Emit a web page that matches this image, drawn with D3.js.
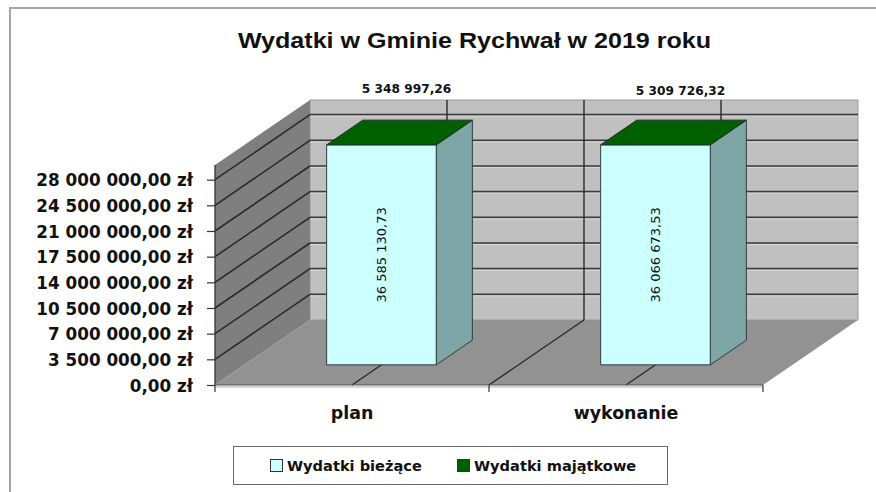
<!DOCTYPE html>
<html>
<head>
<meta charset="utf-8">
<script src="https://cdn.jsdelivr.net/npm/d3@7"></script>
<style>
  html, body { margin: 0; padding: 0; background: #ffffff; }
  svg { display: block; }
</style>
</head>
<body>
<svg id="chart" width="876" height="492"></svg>
<script>
// ---- data ----
const title = "Wydatki w Gminie Rychwał w 2019 roku";
const categories = ["plan", "wykonanie"];
const seriesNames = ["Wydatki bieżące", "Wydatki majątkowe"];
const biezace = [36585130.73, 36066673.53];
const majatkowe = [5348997.26, 5309726.32];
const yTicks = [0, 3500000, 7000000, 10500000, 14000000, 17500000, 21000000, 24500000, 28000000];
const yMax = 30000000;

// ---- style ----
const colFront = ["#ccffff", "#006000"];
const colSide = ["#7fa6a6", "#004400"];
const DX = 95, DY = -65;          // depth projection
const D0 = 0.31, D1 = 0.69;       // bar depth span

const loc = d3.formatLocale({decimal: ",", thousands: " ", grouping: [3], currency: ["", " zł"]});
const fmtAxis = loc.format("$,.2f");
const fmtVal = loc.format(",.2f");

const svg = d3.select("#chart");

// outer border
svg.append("rect").attr("x", 10).attr("y", 8).attr("width", 900).attr("height", 520)
  .attr("fill", "#fff").attr("stroke", "#a6a6a6").attr("stroke-width", 2);

// scales (front plane)
const x = d3.scaleBand().domain(categories).range([215, 763]).paddingInner(0.6).paddingOuter(0.3);
const y = d3.scaleLinear().domain([0, yMax]).range([385, 165]);
const x0 = x.range()[0], x1 = x.range()[1];
const yb = y(0), yt = y(yMax);

const pt = (px, py, d) => [px + DX * d, py + DY * d];
const poly = pts => pts.map(p => p.join(",")).join(" ");

// back wall
svg.append("polygon")
  .attr("points", poly([pt(x0, yt, 1), pt(x1, yt, 1), pt(x1, yb, 1), pt(x0, yb, 1)]))
  .attr("fill", "#c0c0c0").attr("stroke", "#9a9a9a").attr("stroke-width", 1);
// left wall
svg.append("polygon")
  .attr("points", poly([pt(x0, yt, 0), pt(x0, yt, 1), pt(x0, yb, 1), pt(x0, yb, 0)]))
  .attr("fill", "#7f7f7f");
// floor
svg.append("polygon")
  .attr("points", poly([pt(x0, yb, 0), pt(x1, yb, 0), pt(x1, yb, 1), pt(x0, yb, 1)]))
  .attr("fill", "#929292");
// floor thickness hint
svg.append("line").attr("x1", x0).attr("x2", x1).attr("y1", yb + 2).attr("y2", yb + 2)
  .attr("stroke", "#d6d6d6").attr("stroke-width", 2);

// horizontal gridlines: left wall + back wall
const grid = svg.append("g");
yTicks.filter(v => v > 0).forEach(v => {
  const a = pt(x0, y(v), 0), b = pt(x0, y(v), 1), c = pt(x1, y(v), 1);
  grid.append("line").attr("x1", a[0]).attr("y1", a[1]).attr("x2", b[0]).attr("y2", b[1])
    .attr("stroke", "#2a2a2a").attr("stroke-width", 1.6);
  grid.append("line").attr("x1", b[0]).attr("y1", b[1]).attr("x2", c[0]).attr("y2", c[1])
    .attr("stroke", "#3a3a3a").attr("stroke-width", 1.6);
  grid.append("line").attr("x1", b[0]).attr("y1", b[1] + 1.5).attr("x2", c[0]).attr("y2", c[1] + 1.5)
    .attr("stroke", "#d8d8d8").attr("stroke-width", 1);
});

// category gridlines: centers and boundaries (floor + back wall)
const catLines = [];
categories.forEach(c => catLines.push(x(c) + x.bandwidth() / 2));
catLines.push((x(categories[0]) + x.bandwidth() / 2 + x(categories[1]) + x.bandwidth() / 2) / 2);
catLines.forEach(cx => {
  const a = pt(cx, yb, 0), b = pt(cx, yb, 1), c = pt(cx, yt, 1);
  grid.append("line").attr("x1", a[0]).attr("y1", a[1]).attr("x2", b[0]).attr("y2", b[1])
    .attr("stroke", "#2a2a2a").attr("stroke-width", 1.4);
  grid.append("line").attr("x1", b[0]).attr("y1", b[1]).attr("x2", c[0]).attr("y2", c[1])
    .attr("stroke", "#2a2a2a").attr("stroke-width", 1.4);
});

// axes lines
svg.append("line").attr("x1", x0).attr("x2", x0).attr("y1", yt).attr("y2", yb)
  .attr("stroke", "#333").attr("stroke-width", 1.3);
svg.append("line").attr("x1", x0).attr("x2", x1).attr("y1", yb).attr("y2", yb)
  .attr("stroke", "#555").attr("stroke-width", 1.2);

// y axis via d3.axisLeft
const yAxis = d3.axisLeft(y).tickValues(yTicks).tickFormat(fmtAxis).tickSize(8).tickPadding(14);
const gy = svg.append("g").attr("transform", `translate(${x0},0)`).call(yAxis);
gy.select(".domain").remove();
gy.selectAll(".tick line").attr("stroke", "#333").attr("stroke-width", 1.2);
gy.selectAll(".tick text").attr("font-family", "DejaVu Sans, Verdana, sans-serif")
  .attr("font-weight", "bold").attr("font-size", "16.8px").attr("fill", "#111").attr("dy", "0.36em");

// x axis ticks (boundaries)
const xBounds = [x0, (x0 + x1) / 2, x1];
xBounds.forEach(bx => {
  svg.append("line").attr("x1", bx).attr("x2", bx).attr("y1", yb).attr("y2", yb + 7)
    .attr("stroke", "#333").attr("stroke-width", 1.2);
});
// x labels
svg.append("g").selectAll("text").data(categories).join("text")
  .attr("x", d => x(d) + x.bandwidth() / 2).attr("y", 419)
  .attr("text-anchor", "middle")
  .attr("font-family", "DejaVu Sans, Verdana, sans-serif").attr("font-weight", "bold")
  .attr("font-size", "17.4px").attr("fill", "#111").text(d => d);

// bars (stacked, clipped at axis max)
const bars = svg.append("g");
categories.forEach((c, i) => {
  const vals = [biezace[i], majatkowe[i]];
  const bx0 = x(c), bx1 = x(c) + x.bandwidth();
  let acc = 0;
  let topY = null;
  vals.forEach((v, s) => {
    const v0 = Math.min(acc, yMax), v1 = Math.min(acc + v, yMax);
    acc += v;
    if (v1 > v0) {
      const ya = y(v0), yb2 = y(v1);
      bars.append("polygon")
        .attr("points", poly([pt(bx1, yb2, D0), pt(bx1, yb2, D1), pt(bx1, ya, D1), pt(bx1, ya, D0)]))
        .attr("fill", colSide[s]).attr("stroke", "#2f3f3f").attr("stroke-width", 1);
      bars.append("polygon")
        .attr("points", poly([pt(bx0, yb2, D0), pt(bx1, yb2, D0), pt(bx1, ya, D0), pt(bx0, ya, D0)]))
        .attr("fill", colFront[s]).attr("stroke", "#2f3f3f").attr("stroke-width", 1);
      topY = yb2;
    }
  });
  // top face: color of the outermost stacked series
  const s = vals.length - 1;
  bars.append("polygon")
    .attr("points", poly([pt(bx0, topY, D0), pt(bx1, topY, D0), pt(bx1, topY, D1), pt(bx0, topY, D1)]))
    .attr("fill", colFront[s]).attr("stroke", "#1f2f1f").attr("stroke-width", 1);

  // rotated label inside (bieżące)
  const fc = pt(bx0 + x.bandwidth() / 2, (y(0) + y(Math.min(biezace[i], yMax))) / 2, D0);
  bars.append("text")
    .attr("transform", `translate(${fc[0]},${fc[1]}) rotate(-90)`)
    .attr("text-anchor", "middle").attr("dy", "0.36em")
    .attr("font-family", "DejaVu Sans, Verdana, sans-serif").attr("font-size", "13px")
    .attr("fill", "#111").text(fmtVal(biezace[i]));

  // label above (majątkowe)
  const lc = pt(bx0 + x.bandwidth() / 2 + 7, yt - 11, 0.5);
  svg.append("text")
    .attr("x", lc[0]).attr("y", yt + DY - 11 + 2 * i)
    .attr("text-anchor", "middle").attr("dy", "0.36em")
    .attr("font-family", "DejaVu Sans, Verdana, sans-serif").attr("font-weight", "bold")
    .attr("font-size", "12.2px").attr("fill", "#111").text(fmtVal(majatkowe[i]));
});

// title
svg.append("text")
  .attr("transform", "translate(474.5,48) scale(1.14,1)")
  .attr("text-anchor", "middle")
  .attr("font-family", "Liberation Sans, Arial, sans-serif").attr("font-weight", "bold")
  .attr("font-size", "22px").attr("fill", "#111").text(title);

// legend
const lg = svg.append("g");
lg.append("rect").attr("x", 233.5).attr("y", 446.5).attr("width", 434).attr("height", 38)
  .attr("fill", "#fff").attr("stroke", "#6a6a6a").attr("stroke-width", 1);
const legX = [270, 457];
seriesNames.forEach((n, s) => {
  lg.append("rect").attr("x", legX[s] + 0.5).attr("y", 459.5).attr("width", 12).attr("height", 12)
    .attr("fill", colFront[s]).attr("stroke", "#333").attr("stroke-width", 1);
  lg.append("text").attr("x", legX[s] + 17).attr("y", 471)
    .attr("font-family", "DejaVu Sans, Verdana, sans-serif").attr("font-weight", "bold")
    .attr("font-size", "14.6px").attr("fill", "#111").text(n);
});
</script>
</body>
</html>
